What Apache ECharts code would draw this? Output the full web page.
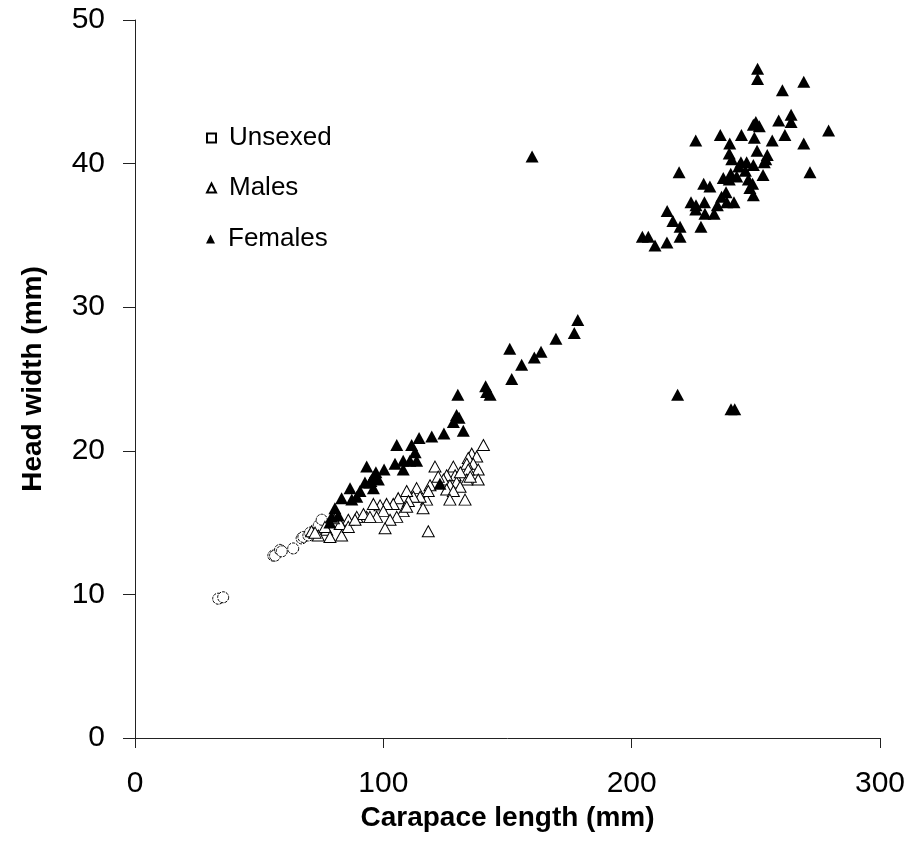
<!DOCTYPE html>
<html>
<head>
<meta charset="utf-8">
<script src="https://cdn.jsdelivr.net/npm/echarts@6/dist/echarts.min.js"></script>
<style>
html,body{margin:0;padding:0;background:#fff;}
#main{width:912px;height:864px;}
</style>
</head>
<body>
<div id="main"></div>
<script>
const seriesNames = ['Unsexed', 'Males', 'Females'];
const xTicks = [0, 100, 200, 300];
const yTicks = [0, 10, 20, 30, 40, 50];

const unsexedX = [33.5, 35.5, 55.7, 56.4, 58.4, 59.1, 63.7, 67.1, 67.8, 69.8, 70.5, 74.0, 75.2];
const unsexedY = [9.7, 9.8, 12.7, 12.7, 13.1, 13.0, 13.2, 13.9, 14.0, 14.1, 14.3, 14.8, 15.2];

const malesX = [140.3, 135.6, 137.6, 134.2, 136.2, 133.6, 138.2, 134.2, 120.8, 128.2,
  138.2, 133.6, 128.9, 129.5, 125.5, 124.2, 126.8, 130.9, 125.5, 128.2,
  132.9, 126.8, 122.1, 118.8, 117.4, 118.1, 113.4, 114.8, 112.1, 109.4,
  110.1, 106.0, 104.0, 101.3, 98.7, 96.0, 100.0, 97.3, 93.3, 89.3,
  92.0, 108.0, 105.4, 102.7, 109.4, 118.1, 100.7, 94.6, 85.9, 82.6,
  83.2, 77.2, 73.8, 79.9, 71.1, 72.5, 76.5, 78.5, 85.9, 88.6,
  131.0, 135.0, 116.0];
const malesY = [20.4, 19.8, 19.6, 19.5, 19.1, 19.1, 18.7, 18.7, 18.9, 18.9,
  18.0, 18.0, 18.3, 17.8, 18.3, 18.0, 17.6, 17.5, 17.3, 17.2,
  16.6, 16.6, 18.2, 17.6, 16.6, 17.2, 17.4, 16.8, 16.8, 17.2,
  16.5, 16.7, 16.3, 16.3, 16.2, 16.3, 15.8, 15.4, 15.4, 15.4,
  15.6, 15.8, 15.4, 15.2, 16.1, 14.4, 14.6, 15.4, 15.2, 14.9,
  14.1, 14.5, 14.1, 15.3, 14.4, 14.3, 14.7, 14.0, 14.7, 15.2,
  18.5, 18.2, 16.0];

const femalesX = [250.7, 250.7, 269.3, 260.7, 279.3, 264.2, 264.2, 259.2, 249.0, 251.4,
  250.0, 261.7, 244.2, 235.7, 249.4, 225.8, 256.6, 269.3, 239.5, 250.5,
  239.3, 254.6, 254.0, 240.3, 244.0, 246.3, 249.0, 253.4, 243.1, 219.1,
  271.8, 245.8, 252.9, 239.9, 236.9, 239.3, 242.3, 229.0, 231.5, 247.0,
  248.7, 247.6, 249.0, 238.0, 236.2, 223.9, 225.9, 225.8, 229.3, 238.3,
  241.2, 234.5, 229.5, 233.2, 214.3, 216.6, 219.5, 219.5, 227.9, 204.3,
  206.7, 209.4, 214.2, 159.9, 218.5, 240.0, 241.5,
  178.3, 176.9, 169.5, 163.5, 160.8, 150.9, 155.7, 151.7, 141.2, 141.6, 143.0, 130.0,
  128.2, 129.5, 132.2, 130.5, 124.4, 119.5, 114.4, 105.4, 111.4, 112.8,
  104.7, 108.0, 110.7, 113.4, 108.0, 100.3, 93.3, 96.0, 94.6, 98.0,
  92.6, 96.0, 90.6, 86.6, 83.2, 87.3, 80.5, 79.2, 81.9, 78.5,
  122.8, 89.3, 95.0, 97.0];
const femalesY = [46.6, 45.9, 45.7, 45.1, 42.3, 43.4, 42.9, 43.0, 42.7, 42.6,
  42.9, 42.0, 42.0, 42.0, 41.8, 41.6, 41.6, 41.4, 41.4, 40.9,
  40.7, 40.6, 40.3, 40.3, 40.1, 40.1, 39.9, 40.1, 39.8, 39.4,
  39.4, 39.5, 39.2, 39.3, 39.0, 38.9, 39.1, 38.6, 38.4, 38.9,
  38.6, 38.3, 37.8, 38.0, 37.7, 37.3, 37.1, 36.8, 37.3, 37.3,
  37.3, 37.1, 36.5, 36.5, 36.7, 36.0, 35.6, 34.9, 35.6, 34.9,
  34.9, 34.3, 34.5, 40.5, 23.9, 22.9, 22.9,
  29.1, 28.2, 27.8, 26.9, 26.5, 27.1, 26.0, 25.0, 24.5, 24.1, 23.9, 23.9,
  22.0, 22.5, 21.4, 22.3, 21.2, 21.0, 20.9, 20.4, 20.4, 19.9,
  19.1, 19.3, 19.3, 19.3, 18.7, 18.7, 18.9, 18.2, 17.8, 18.0,
  17.8, 17.4, 17.2, 17.4, 16.7, 16.6, 16.0, 15.4, 15.5, 15.0,
  17.7, 16.8, 17.9, 18.5];

const zip = (xs, ys) => xs.map((x, i) => [x, ys[i]]);

const chart = echarts.init(document.getElementById('main'), null, {renderer: 'canvas'});
const FONT = '"Liberation Sans", Arial, sans-serif';

function legendFor(name, top, icon) {
  return {
    orient: 'vertical',
    left: 201,
    top: top,
    itemWidth: 9,
    itemHeight: 9,
    data: [icon ? {name: name, icon: icon} : name],
    textStyle: {fontFamily: FONT, fontSize: 26, color: '#000', lineHeight: 28, padding: [0, 0, 0, 8]}
  };
}

chart.setOption({
  animation: false,
  backgroundColor: '#ffffff',
  grid: {left: 135, right: 32, top: 20, bottom: 126, containLabel: false},
  legend: [
    legendFor(seriesNames[0], 119, 'rect'),
    legendFor(seriesNames[1], 169),
    legendFor(seriesNames[2], 220)
  ],
  xAxis: {
    type: 'value',
    min: xTicks[0],
    max: xTicks[xTicks.length - 1],
    interval: 100,
    name: 'Carapace length (mm)',
    nameLocation: 'middle',
    nameGap: 66,
    nameTextStyle: {fontFamily: FONT, fontSize: 28, fontWeight: 'bold', color: '#000'},
    axisLine: {show: true, onZero: false, lineStyle: {color: '#222', width: 1}},
    axisTick: {show: true, inside: false, length: 10, lineStyle: {color: '#222'}},
    axisLabel: {fontFamily: FONT, fontSize: 30, color: '#000', margin: 31},
    splitLine: {show: false}
  },
  yAxis: {
    type: 'value',
    min: yTicks[0],
    max: yTicks[yTicks.length - 1],
    interval: 10,
    name: 'Head width (mm)',
    nameLocation: 'middle',
    nameGap: 88,
    nameRotate: 90,
    nameTextStyle: {fontFamily: FONT, fontSize: 28, fontWeight: 'bold', color: '#000'},
    axisLine: {show: true, onZero: false, lineStyle: {color: '#222', width: 1}},
    axisTick: {show: true, inside: false, length: 12, lineStyle: {color: '#222'}},
    axisLabel: {fontFamily: FONT, fontSize: 30, color: '#000', margin: 30},
    splitLine: {show: false}
  },
  series: [
    {
      name: seriesNames[0],
      type: 'scatter',
      symbol: 'circle',
      symbolSize: 11,
      itemStyle: {color: '#fff', borderColor: '#000', borderWidth: 1, borderType: [3, 1], opacity: 1},
      data: zip(unsexedX, unsexedY)
    },
    {
      name: seriesNames[1],
      type: 'scatter',
      symbol: 'triangle',
      symbolSize: [12, 11],
      itemStyle: {color: '#fff', borderColor: '#000', borderWidth: 1, opacity: 1},
      data: zip(malesX, malesY)
    },
    {
      name: seriesNames[2],
      type: 'scatter',
      symbol: 'triangle',
      symbolSize: [13, 12],
      itemStyle: {color: '#000', borderColor: '#000', borderWidth: 0, opacity: 1},
      data: zip(femalesX, femalesY)
    }
  ]
});
</script>
</body>
</html>
